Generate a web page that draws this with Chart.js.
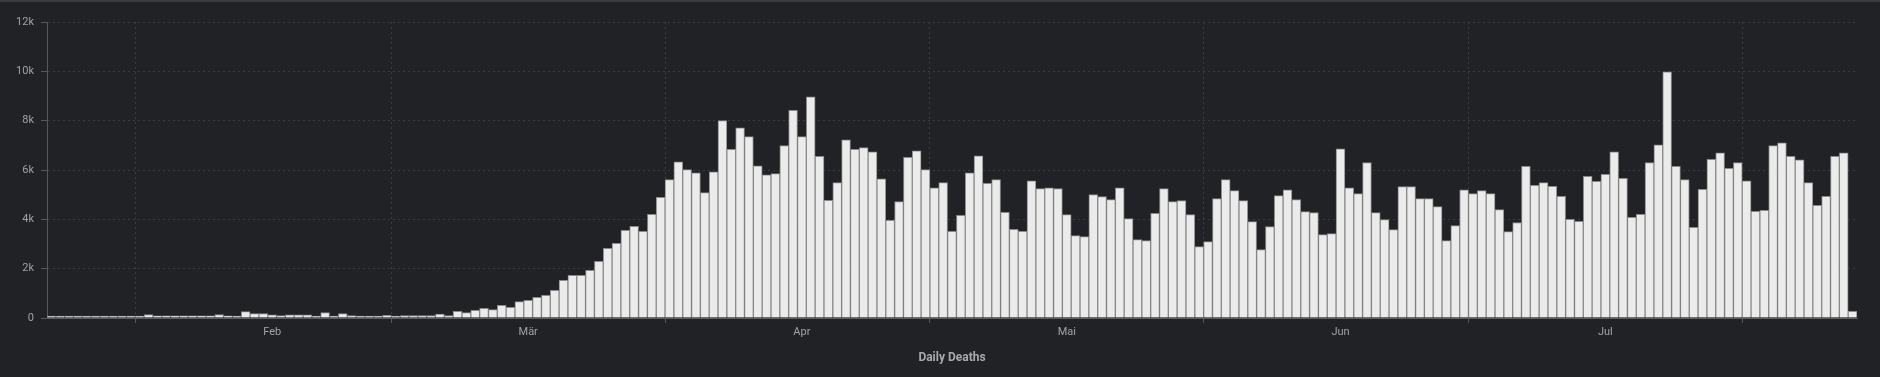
<!DOCTYPE html>
<html>
<head>
<meta charset="utf-8">
<script src="https://cdn.jsdelivr.net/npm/chart.js@4/dist/chart.umd.min.js"></script>
<style>
  html, body { margin: 0; padding: 0; background: #212226; }
  #box { width: 1880px; height: 377px; }
</style>
</head>
<body>
<div id="box"><canvas id="grafico" width="1880" height="377"></canvas></div>
<script>
// daily deaths, 22 Jan .. 13 Aug
const primoGiorno = new Date(2020, 0, 22);
const morti_gen = [17, 1, 8, 16, 14, 50, 50, 5, 40, 40];
const morti_feb = [45, 138, 85, 85, 85, 85, 85, 85, 90, 138, 85, 5, 260, 180, 180, 130, 95, 130, 130, 130,
  5, 220, 5, 180, 95, 45, 45, 45, 108];
const morti_mar = [54, 95, 95, 95, 95, 162, 95, 270, 216, 310, 392, 338, 513, 432, 662, 716, 837, 918, 1121, 1526,
  1728, 1728, 1931, 2295, 2822, 3024, 3551, 3713, 3510, 4200, 4890];
const morti_apr = [5607, 6336, 6012, 5890, 5080, 5930, 8000, 6836, 7714, 7350, 6174, 5809, 5850, 6985, 8417, 7350,
  8970, 6552, 4769, 5485, 7228, 6836, 6904, 6741, 5647, 3958, 4715, 6512, 6782, 6012];
const morti_mag = [5282, 5485, 3513, 4161, 5890, 6579, 5458, 5607, 4283, 3594, 3513, 5566, 5242, 5282, 5242, 4188,
  3337, 3296, 4999, 4918, 4796, 5282, 4026, 3175, 3134, 4242, 5242, 4715, 4756, 4188, 2891];
const morti_giu = [3094, 4837, 5607, 5161, 4756, 3904, 2769, 3702, 4958, 5201, 4796, 4310, 4269, 3378, 3418, 6863,
  5282, 5039, 6296, 4269, 3985, 3580, 5323, 5323, 4837, 4837, 4512, 3134, 3742, 5201];
const morti_lug = [5039, 5161, 5039, 4391, 3499, 3870, 6147, 5377, 5485, 5336, 4931, 3999, 3918, 5742, 5539, 5823,
  6741, 5661, 4080, 4202, 6296, 7025, 9984, 6147, 5607, 3675, 5215, 6431, 6701, 6066, 6296];
const morti_ago = [5566, 4323, 4364, 6985, 7106, 6552, 6417, 5485, 4566, 4931, 6552, 6701, 270];

const mesi = ["Feb", "Mär", "Apr", "Mai", "Jun", "Jul"];
const etichetteY = ["0", "2k", "4k", "6k", "8k", "10k", "12k"];

const morti = [].concat(morti_gen, morti_feb, morti_mar, morti_apr, morti_mag, morti_giu, morti_lug, morti_ago);

const giorni = morti.map((_, i) => {
  const d = new Date(primoGiorno);
  d.setDate(d.getDate() + i);
  return d;
});
const etichette = giorni.map(d => d.toISOString().slice(0, 10));

// month starts -> grid lines, 16th of the month -> label
function tickMesi(scale) {
  const t = [];
  giorni.forEach((d, i) => {
    if (d.getDate() === 1 && i > 0) t.push({ value: i - 0.5, griglia: true });
    if (d.getDate() === 16 && d.getMonth() >= 1 && d.getMonth() <= 6) {
      t.push({ value: i, testo: mesi[d.getMonth() - 1] });
    }
  });
  t.sort((a, b) => a.value - b.value);
  scale.ticks = t;
}

const sfondo = {
  id: "sfondo",
  beforeDraw(chart) {
    const c = chart.ctx;
    c.save();
    c.fillStyle = "#212226";
    c.fillRect(0, 0, chart.width, chart.height);
    c.fillStyle = "#3b3c40";
    c.fillRect(0, 0, chart.width, 2);
    c.restore();
  }
};

Chart.defaults.font.family = "Roboto";

new Chart(document.getElementById("grafico"), {
  type: "bar",
  data: {
    labels: etichette,
    datasets: [{
      label: "Daily Deaths",
      data: morti,
      backgroundColor: "#ebebeb",
      borderColor: "#8a8a8a",
      borderWidth: 1,
      minBarLength: 2,
      categoryPercentage: 1,
      barPercentage: 1
    }]
  },
  options: {
    responsive: false,
    animation: false,
    layout: { padding: { top: 22, right: 23, bottom: 0, left: 0 } },
    plugins: { legend: { display: false }, tooltip: { enabled: false } },
    scales: {
      x: {
        offset: true,
        afterBuildTicks: tickMesi,
        afterFit: s => { s.height = 59; },
        grid: {
          offset: false,
          color: ctx => (ctx.tick && ctx.tick.griglia) ? "#3a3c40" : "rgba(0,0,0,0)",
          tickColor: ctx => (ctx.tick && ctx.tick.griglia) ? "#55575b" : "rgba(0,0,0,0)",
          tickLength: 5
        },
        border: { color: "#5b5d61", dash: [2, 3] },
        ticks: {
          autoSkip: false,
          maxRotation: 0,
          padding: 3,
          color: "#9ea3a8",
          font: { size: 11 },
          callback: (v, i, t) => t[i].testo || ""
        },
        title: {
          display: true,
          text: "Daily Deaths",
          color: "#a6a9ad",
          font: { size: 12, weight: "bold" },
          padding: { top: 0, bottom: 12 }
        }
      },
      y: {
        min: 0,
        max: 12000,
        afterFit: s => { s.width = 47; },
        grid: { color: "#3a3c40", tickColor: "#55575b", tickLength: 6 },
        border: { color: "#55575b", dash: [2, 3] },
        ticks: {
          stepSize: 2000,
          padding: 7,
          color: "#9ea3a8",
          font: { size: 11 },
          callback: (v, i) => etichetteY[i]
        }
      }
    }
  },
  plugins: [sfondo]
});
</script>
</body>
</html>
